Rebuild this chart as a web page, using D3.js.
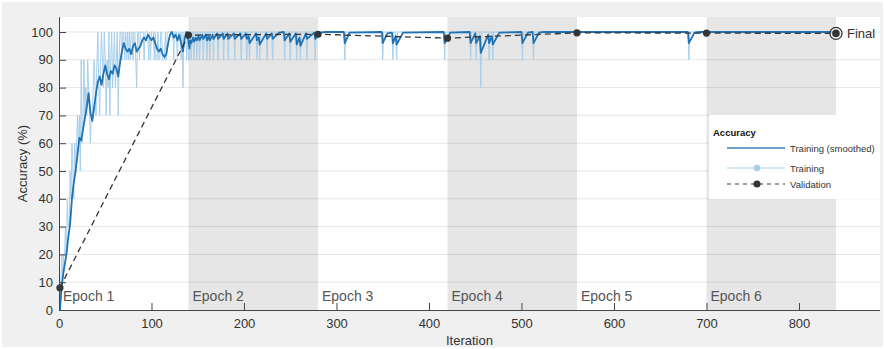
<!DOCTYPE html>
<html><head><meta charset="utf-8">
<script src="https://cdn.jsdelivr.net/npm/d3@7"></script>
<style>html,body{margin:0;padding:0;background:#fff;} svg{display:block;font-family:"Liberation Sans",Arial,Helvetica,sans-serif;}</style>
</head><body><svg id="chart" width="885" height="349"></svg>
<script>
// ---------- DATA ----------
// Mini-batch training accuracy (%) for iterations 1..840
const trainAcc = [
0,10,20,10,20,20,30,20,40,30, 30,50,40,60,50,40,60,50,60,70,
60,70,50,90,60,70,90,70,80,70, 90,80,70,60,70,70,80,90,80,70,
90,100,80,70,90,100,90,80,100,90, 70,90,80,100,70,90,100,80,90,100,
80,90,100,70,90,100,100,90,100,100, 90,100,90,100,90,100,90,100,100,90,
100,100,90,80,100,100,90,100,100,100, 100,90,100,100,100,100,90,100,90,100,
100,100,90,100,90,90,100,90,90,100, 100,90,90,90,100,90,100,100,100,100,
100,100,100,90,100,100,100,90,100,100, 100,90,100,80,100,100,100,90,100,90,
90,100,90,100,100,90,100,100,90,100, 100,90,100,100,100,90,100,100,100,90,
100,100,90,100,100,100,90,100,100,100, 100,90,100,100,100,100,100,90,100,100,
100,100,90,100,100,100,100,100,100,90, 100,100,100,100,100,100,90,100,100,100,
100,100,90,100,100,90,100,100,100,100, 100,100,100,90,100,100,90,100,100,100,
100,100,100,100,90,100,100,100,100,100, 90,100,100,100,100,100,100,100,100,100,
100,100,100,90,100,100,100,100,100,90, 100,100,100,100,100,100,90,100,100,100,
90,100,100,100,100,100,100,90,100,100, 100,100,100,100,100,100,90,100,100,100,
100,100,100,100,100,100,100,100,100,100, 100,100,100,100,100,100,100,100,100,100,
100,100,100,100,100,100,100,100,90,100, 100,100,100,100,100,100,100,100,100,100,
100,100,100,100,100,100,100,100,100,100, 100,100,100,100,100,100,100,100,100,100,
100,100,100,100,100,100,100,100,100,90, 100,100,100,100,100,100,100,100,100,100,
90,100,100,100,90,100,100,100,100,100, 100,100,100,100,100,100,100,100,100,100,
100,100,100,100,100,100,100,100,100,100, 100,100,100,100,100,100,100,100,100,100,
100,100,100,100,100,100,100,100,100,100, 100,100,100,100,100,100,90,100,100,100,
100,100,100,100,100,100,100,100,100,100, 100,100,100,100,100,100,100,100,100,100,
100,100,100,100,90,100,100,100,100,100, 90,100,100,100,100,80,100,100,100,100,
100,100,100,100,90,100,100,100,90,100, 100,100,100,100,100,100,100,100,100,100,
100,100,100,100,100,100,100,100,100,100, 100,100,100,100,100,100,100,100,100,100,
90,100,100,100,100,100,100,100,100,100, 100,100,90,100,100,100,100,100,100,100,
100,100,100,100,100,100,100,100,100,100, 100,100,100,100,100,100,100,100,100,100,
100,100,100,100,100,100,100,100,100,100, 100,100,100,100,100,100,100,100,100,100,
100,100,100,100,100,100,100,100,100,100, 100,100,100,100,100,100,100,100,100,100,
100,100,100,100,100,100,100,100,100,100, 100,100,100,100,100,100,100,100,100,100,
100,100,100,100,100,100,100,100,100,100, 100,100,100,100,100,100,100,100,100,100,
100,100,100,100,100,100,100,100,100,100, 100,100,100,100,100,100,100,100,100,100,
100,100,100,100,100,100,100,100,100,100, 100,100,100,100,100,100,100,100,100,100,
100,100,100,100,100,100,100,100,100,100, 100,100,100,100,100,100,100,100,100,100,
90,100,100,100,100,100,100,100,100,100, 100,100,100,100,100,100,100,100,100,100,
100,100,100,100,100,100,100,100,100,100, 100,100,100,100,100,100,100,100,100,100,
100,100,100,100,100,100,100,100,100,100, 100,100,100,100,100,100,100,100,100,100,
100,100,100,100,100,100,100,100,100,100, 100,100,100,100,100,100,100,100,100,100,
100,100,100,100,100,100,100,100,100,100, 100,100,100,100,100,100,100,100,100,100,
100,100,100,100,100,100,100,100,100,100, 100,100,100,100,100,100,100,100,100,100,
100,100,100,100,100,100,100,100,100,100, 100,100,100,100,100,100,100,100,100,100,
100,100,100,100,100,100,100,100,100,100, 100,100,100,100,100,100,100,100,100,100
];

// Smoothed training accuracy, read as vertices (iteration, %)
const smoothIter = [1,3,5,8,10,12,14,16,18,20,22,24,26,28,30,32,34,36,38,40,42,44,46,48,50,52,54,56,58,60,62,64,66,68,70,72,74,76,78,80,82,84,86,88,90,92,94,96,98,100,102,104,106,108,110,112,114,116,118,120,122,124,126,128,130,132,134,136,138,140,
141,142,143,145,146,148,149,151,152,155,156,159,160,162,163,166,167,171,172,177,178,182,183,189,190,196,197,202,203,205,206,213,214,216,217,224,225,230,231,238,243,244,249,250,256,257,260,261,267,268,276,277,283,288,
308,309,314,349,350,355,360,361,364,365,372,416,417,423,
444,445,450,451,455,456,464,465,468,469,476,500,501,507,512,513,519,524,
680,681,687,692,840];
const smoothAcc = [0,9,14,20,26,31,40,46,50,56,62,61,65,69,73,78,71,68,73,78,82,84,81,85,88,85,83,86,85,88,87,84,89,93,96,94,93,94,92,95,96,93,94,95,97,98,97,99,98,97,98,96,94,93,94,92,91,92,96,99,100,98,99,97,99,96,93,98,100,97,
94,97,96,98,96.5,98,97,98.5,97,99,97.5,99,97,98.5,97,99,97.5,99.5,97.5,99.5,97.5,99.5,97.5,99.5,97.5,99.5,97.5,99.5,97.5,98.5,96,99.5,97,98,95.5,99.5,97.5,99.5,97.5,99.8,100,97,99.5,96.5,99.5,95.5,98,95,99.5,97.5,99.8,97.5,99.8,100,
100,96,99.8,100,96,99.5,99.8,96,98.5,95.5,99.8,100,96,99.8,
100,96,99.5,96,98.5,92.5,99,96,98.5,95.5,99.8,100,96,99.8,100,96,99.8,100,
100,96,99.8,100,100];

// Validation accuracy (%)
const valIter = [1, 140, 280, 420, 560, 700, 840];
const valAcc  = [8, 98.9, 99.2, 97.8, 99.7, 99.6, 99.5];

const epochLabels = ["Epoch 1","Epoch 2","Epoch 3","Epoch 4","Epoch 5","Epoch 6"];
const epochStart  = [0, 140, 280, 420, 560, 700];
const epochEnd    = [140, 280, 420, 560, 700, 840];
const xTickValues = [0,100,200,300,400,500,600,700,800];
const yTickValues = [0,10,20,30,40,50,60,70,80,90,100];
const legendTitle = "Accuracy";
const legendLabels = ["Training (smoothed)", "Training", "Validation"];
const finalLabel = "Final";

// ---------- LAYOUT ----------
const svg = d3.select("#chart");
const L = 59, R = 880, T = 17, B = 310;
const x = d3.scaleLinear().domain([0, 887.6]).range([L, R]);
const y = d3.scaleLinear().domain([0, 105.4]).range([B, T]);

const cSmooth = "#1f72b4", cRaw = "#a8cfeb", cVal = "#353535", cText = "#333";

// figure background
svg.append("rect").attr("x",2).attr("y",2).attr("width",881).attr("height",345).attr("fill","#f0f0f0");
// axes background
svg.append("rect").attr("x",L).attr("y",T).attr("width",R-L).attr("height",B-T).attr("fill","#fff");

// epoch shading
svg.append("g").selectAll("rect").data(epochStart.map((s,i)=>({s, e:epochEnd[i], i})).filter(d=>d.i%2===1))
  .join("rect")
  .attr("x", d=>x(d.s)).attr("width", d=>x(d.e)-x(d.s))
  .attr("y", T).attr("height", B-T).attr("fill", "#e6e6e6");

// grid
svg.append("g").selectAll("line").data(yTickValues.filter(v=>v>0)).join("line")
  .attr("x1", L).attr("x2", R).attr("y1", d=>y(d)).attr("y2", d=>y(d))
  .attr("stroke", "#000").attr("stroke-opacity", 0.1).attr("stroke-width", 1);

// epoch labels
svg.append("g").selectAll("text").data(epochLabels).join("text")
  .attr("x", (d,i)=>x(epochStart[i])+4).attr("y", 301)
  .attr("font-size", 14).attr("fill", "#555").text(d=>d);

// clip
svg.append("clipPath").attr("id","clip").append("rect").attr("x",L).attr("y",T-8).attr("width",R-L).attr("height",B-T+8);
const plot = svg.append("g").attr("clip-path","url(#clip)");

// raw training
const rawLine = d3.line().x((d,i)=>x(i+1)).y(d=>y(d));
plot.append("path").datum(trainAcc).attr("d", rawLine)
  .attr("fill","none").attr("stroke", cRaw).attr("stroke-width", 1);

// smoothed
const smLine = d3.line().x(d=>x(d[0])).y(d=>y(d[1]));
plot.append("path").datum(smoothIter.map((it,i)=>[it, smoothAcc[i]])).attr("d", smLine)
  .attr("fill","none").attr("stroke", cSmooth).attr("stroke-width", 1.8).attr("stroke-linejoin","round");

// validation
const valData = valIter.map((it,i)=>[it, valAcc[i]]);
plot.append("path").datum(valData).attr("d", smLine)
  .attr("fill","none").attr("stroke", cVal).attr("stroke-width", 1.3).attr("stroke-dasharray","6,4");
svg.append("g").selectAll("circle").data(valData.slice(0,-1)).join("circle")
  .attr("cx", d=>x(d[0])).attr("cy", d=>y(d[1])).attr("r", 3.6).attr("fill", cVal);
const fin = valData[valData.length-1];
svg.append("circle").attr("cx", x(fin[0])).attr("cy", y(fin[1])).attr("r", 6)
  .attr("fill","#fff").attr("fill-opacity",0.6).attr("stroke", cVal).attr("stroke-width", 1.3);
svg.append("circle").attr("cx", x(fin[0])).attr("cy", y(fin[1])).attr("r", 3.8).attr("fill", cVal);
svg.append("text").attr("x", x(fin[0])+11).attr("y", y(fin[1])+4.5)
  .attr("font-size", 13).attr("fill", cText).text(finalLabel);

// axes
const gx = svg.append("g").attr("transform", `translate(0,${B})`)
  .call(d3.axisBottom(x).tickValues(xTickValues).tickSizeInner(-7).tickSizeOuter(0).tickPadding(9));
const gy = svg.append("g").attr("transform", `translate(${L},0)`)
  .call(d3.axisLeft(y).tickValues(yTickValues).tickSizeInner(-7).tickSizeOuter(0).tickPadding(6));
[gx, gy].forEach(g => {
  g.select(".domain").attr("stroke", "#444");
  g.selectAll(".tick line").attr("stroke", "#444");
  g.selectAll(".tick text").attr("font-size", 13).attr("fill", cText)
    .attr("font-family", '"Liberation Sans",Arial,sans-serif');
});
gx.select(".domain").attr("d", `M${L},0.5H${R}`);
gy.select(".domain").attr("d", `M0.5,${B}V${T}`);

// axis titles
svg.append("text").attr("x", (L+R)/2).attr("y", 345).attr("text-anchor","middle")
  .attr("font-size", 13).attr("fill", cText).text("Iteration");
svg.append("text").attr("transform", `translate(27,${(T+B)/2}) rotate(-90)`).attr("text-anchor","middle")
  .attr("font-size", 13).attr("fill", cText).text("Accuracy (%)");

// legend
const lg = svg.append("g");
lg.append("rect").attr("x", 709).attr("y", 115).attr("width", 171).attr("height", 84).attr("fill", "#fff");
lg.append("text").attr("x", 713).attr("y", 136).attr("font-size", 9.5).attr("font-weight","bold").attr("fill","#111").text(legendTitle);
const ly = [148, 168, 184];
lg.append("line").attr("x1",727).attr("x2",785).attr("y1",ly[0]).attr("y2",ly[0]).attr("stroke","#3b7fb0").attr("stroke-width",1.6);
lg.append("line").attr("x1",727).attr("x2",785).attr("y1",ly[1]).attr("y2",ly[1]).attr("stroke",cRaw).attr("stroke-width",1.2);
lg.append("circle").attr("cx",757).attr("cy",ly[1]).attr("r",3.3).attr("fill",cRaw);
lg.append("line").attr("x1",727).attr("x2",785).attr("y1",ly[2]).attr("y2",ly[2]).attr("stroke",cVal).attr("stroke-width",1.2).attr("stroke-dasharray","4,4");
lg.append("circle").attr("cx",757).attr("cy",ly[2]).attr("r",3.5).attr("fill",cVal);
lg.selectAll("text.lab").data(legendLabels).join("text").attr("class","lab")
  .attr("x", 790).attr("y", (d,i)=>ly[i]+3.5).attr("font-size", 9.5).attr("fill", cText).text(d=>d);
</script>
</body></html>
